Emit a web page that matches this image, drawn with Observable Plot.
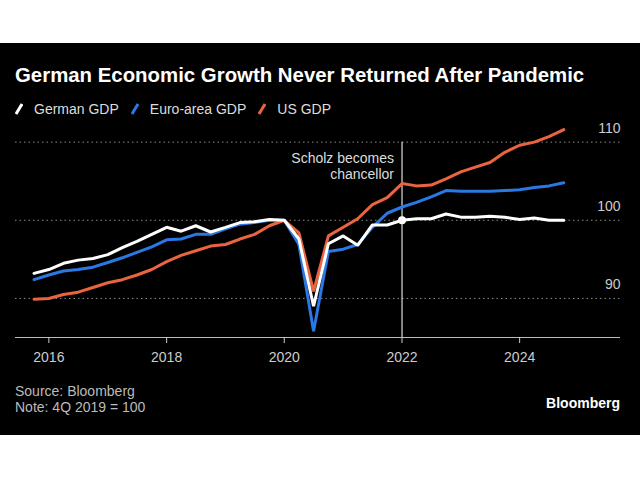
<!DOCTYPE html>
<html>
<head>
<meta charset="utf-8">
<script src="https://cdn.jsdelivr.net/npm/d3@7"></script>
<script src="https://cdn.jsdelivr.net/npm/@observablehq/plot@0.6"></script>
<style>
  body { margin:0; background:#fff; width:640px; height:480px; position:relative; overflow:hidden;
         font-family:"Liberation Sans", Arial, sans-serif; }
  #panel { position:absolute; left:0; top:43px; width:640px; height:392px; background:#000; }
  .abs { position:absolute; white-space:nowrap; }
  #title { left:15px; top:63px; font-size:20.4px; line-height:24px; font-weight:bold; color:#fff; }
  #legend { left:15px; top:101px; font-size:14px; line-height:16px; color:#ddd; display:flex; align-items:center; }
  #legend .item { display:flex; align-items:center; margin-right:12px; }
  #legend svg { margin-right:11px; }
  #chart { left:0; top:118px; }
  #source { left:15px; top:383px; font-size:14px; line-height:16px; color:#bbb; }
  #brand { right:20px; top:395px; font-size:14px; line-height:16px; font-weight:bold; color:#fff; }
</style>
</head>
<body>
<div id="panel"></div>
<div id="title" class="abs">German Economic Growth Never Returned After Pandemic</div>
<div id="legend" class="abs"></div>
<div id="chart" class="abs"></div>
<div id="source" class="abs">Source: Bloomberg<br>Note: 4Q 2019 = 100</div>
<div id="brand" class="abs">Bloomberg</div>
<script>
const quarters = [
  "2015Q3","2015Q4","2016Q1","2016Q2","2016Q3","2016Q4","2017Q1","2017Q2","2017Q3","2017Q4",
  "2018Q1","2018Q2","2018Q3","2018Q4","2019Q1","2019Q2","2019Q3","2019Q4",
  "2020Q1","2020Q2","2020Q3","2020Q4","2021Q1","2021Q2","2021Q3","2021Q4",
  "2022Q1","2022Q2","2022Q3","2022Q4","2023Q1","2023Q2","2023Q3","2023Q4",
  "2024Q1","2024Q2","2024Q3"
];
const germanGDP = [
  93.2, 93.7, 94.5, 94.9, 95.1, 95.6, 96.5, 97.3, 98.2, 99.1,
  98.6, 99.3, 98.5, 99.1, 99.7, 99.8, 100.1, 100.0,
  97.6, 89.0, 97.0, 98.0, 96.8, 99.4, 99.4, 100.0,
  100.2, 100.2, 100.8, 100.4, 100.4, 100.5, 100.4, 100.1,
  100.3, 100.0, 100.0
];
const euroGDP = [
  92.4, 93.0, 93.5, 93.7, 94.0, 94.6, 95.2, 95.9, 96.6, 97.5,
  97.6, 98.2, 98.2, 98.9, 99.5, 99.7, 100.0, 100.0,
  96.9, 85.8, 96.0, 96.3, 96.9, 99.1, 100.9, 101.7,
  102.3, 103.0, 103.8, 103.7, 103.7, 103.7, 103.8, 103.9,
  104.2, 104.4, 104.8
];
const usGDP = [
  89.9, 90.0, 90.5, 90.8, 91.4, 92.0, 92.4, 93.0, 93.7, 94.7,
  95.5, 96.1, 96.7, 96.9, 97.6, 98.2, 99.3, 100.0,
  98.4, 90.9, 98.0, 99.1, 100.2, 102.0, 102.9, 104.7,
  104.4, 104.5, 105.3, 106.2, 106.8, 107.4, 108.7, 109.6,
  110.0, 110.7, 111.6
];
const seriesNames = ["German GDP", "Euro-area GDP", "US GDP"];
const seriesColors = ["#ffffff", "#2a78e4", "#ea6440"];
const yTickValues = [90, 100, 110];
const xTickYears = [2016, 2018, 2020, 2022, 2024];
const annotationQuarter = "2021Q4";
const annotationText = "Scholz becomes\nchancellor";

// quarter end date
const qDate = (q) => new Date(Date.UTC(+q.slice(0, 4), 3 * +q.slice(5), 1));

const drawOrder = [1, 2, 0];
const rows = [];
const seriesValues = [germanGDP, euroGDP, usGDP];
for (const s of drawOrder) {
  quarters.forEach((q, i) => rows.push({series: seriesNames[s], date: qDate(q), value: seriesValues[s][i]}));
}
const annot = [{date: qDate(annotationQuarter), label: annotationText,
  value: germanGDP[quarters.indexOf(annotationQuarter)]}];

// legend
const legend = document.getElementById("legend");
seriesNames.forEach((name, i) => {
  const item = document.createElement("div");
  item.className = "item";
  item.innerHTML = `<svg width="8" height="12"><line x1="1" y1="11" x2="7" y2="1" stroke="${seriesColors[i]}" stroke-width="3"/></svg><span>${name}</span>`;
  legend.appendChild(item);
});

const chart = Plot.plot({
  width: 640,
  height: 260,
  marginLeft: 15,
  marginRight: 20,
  marginTop: 8,
  marginBottom: 41,
  style: {background: "transparent", color: "#ccc", fontSize: "14px",
          fontFamily: "'Liberation Sans', Arial, sans-serif"},
  x: {type: "utc", domain: [new Date(Date.UTC(2015, 5, 8)), new Date(Date.UTC(2025, 8, 18))], label: null},
  y: {domain: [85, 112], label: null},
  color: {domain: seriesNames, range: seriesColors},
  marks: [
    Plot.ruleY(yTickValues, {stroke: "#8a8a8a", strokeDasharray: "1.5,3", strokeWidth: 1}),
    Plot.ruleY([85], {stroke: "#bbb", strokeWidth: 1}),
    Plot.axisX(xTickYears.map(y => new Date(Date.UTC(y, 0, 1))),
      {tickFormat: "%Y", tickSize: 6, tickPadding: 9, color: "#ccc", label: null}),
    Plot.axisY(yTickValues, {anchor: "right", tickSize: 0, tickPadding: 0, textAnchor: "end",
      dy: -14, color: "#ccc", label: null}),
    Plot.ruleX(annot, {x: "date", y1: 85, y2: 110, stroke: "#ddd", strokeWidth: 1.2}),
    Plot.text(annot, {x: "date", y: 107, text: "label", textAnchor: "end", dx: -8,
      lineAnchor: "middle", lineHeight: 1.15, fill: "#ddd"}),
    Plot.line(rows, {x: "date", y: "value", z: "series", stroke: "series", strokeWidth: 3,
      strokeLinejoin: "miter"}),
    Plot.dot(annot, {x: "date", y: "value", r: 4, fill: "#fff"})
  ]
});
document.getElementById("chart").appendChild(chart);
</script>
</body>
</html>
